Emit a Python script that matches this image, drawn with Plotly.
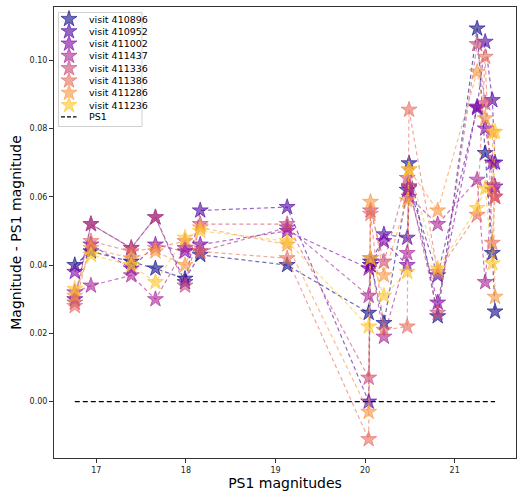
import plotly.graph_objects as go

# PS1 magnitudes of the comparison stars
ps1_mag = [16.76, 16.94, 17.39, 17.66, 17.99, 18.16, 19.13, 20.04, 20.06, 20.21,
           20.47, 20.49, 20.81, 21.25, 21.34, 21.42, 21.45]

visits = ["410896", "410952", "411002", "411437", "411336", "411386", "411286", "411236"]

v410896 = [0.040, 0.044, 0.041, 0.039, 0.036, 0.043, 0.040, 0.026, 0.041, 0.023,
           0.062, 0.0698, 0.025, 0.1093, 0.0728, 0.0435, 0.0264]
v410952 = [0.030, 0.052, 0.045, 0.054, 0.035, 0.056, 0.057, 0.000, 0.040, 0.049,
           0.048, 0.063, 0.037, 0.086, 0.1054, 0.0883, 0.070]
v411002 = [0.038, 0.046, 0.039, 0.046, 0.044, 0.046, 0.050, 0.039, 0.040, 0.047,
           0.040, 0.0625, 0.029, 0.0864, 0.080, 0.070, 0.063]
v411437 = [0.032, 0.034, 0.037, 0.030, 0.045, 0.044, 0.051, 0.031, 0.042, 0.019,
           0.0435, 0.060, 0.052, 0.065, 0.035, 0.062, 0.060]
v411336 = [0.029, 0.052, 0.045, 0.054, 0.034, 0.052, 0.052, 0.007, 0.056, 0.041,
           0.0655, 0.063, 0.026, 0.1047, 0.0874, 0.0634, 0.060]
v411386 = [0.028, 0.047, 0.044, 0.045, 0.047, 0.044, 0.042, -0.011, 0.055, 0.021,
           0.022, 0.0855, 0.038, 0.0547, 0.101, 0.0465, 0.060]
v411286 = [0.031, 0.045, 0.042, 0.044, 0.040, 0.051, 0.046, -0.003, 0.0585, 0.037,
           0.059, 0.068, 0.056, 0.0966, 0.083, 0.079, 0.0307]
v411236 = [0.033, 0.043, 0.040, 0.035, 0.048, 0.050, 0.047, 0.022, 0.042, 0.031,
           0.038, 0.068, 0.039, 0.0567, 0.0625, 0.0405, 0.079]

series = [v410896, v410952, v411002, v411437, v411336, v411386, v411286, v411236]

# plasma colormap sampled at linspace(0, 0.875, 8)
colors = [(13, 8, 135), (76, 2, 161), (126, 3, 168), (168, 34, 150),
          (204, 71, 120), (230, 108, 92), (248, 149, 64), (253, 197, 39)]

x_label = "PS1 magnitudes"
y_label = "Magnitude - PS1 magnitude"

FONT = "DejaVu Sans"
ALPHA = 0.6
STAR = 12

fig = go.Figure()

for name, vals, c in zip(visits, series, colors):
    rgba = f"rgba({c[0]},{c[1]},{c[2]},{ALPHA})"
    fig.add_trace(go.Scatter(
        x=ps1_mag, y=vals, mode="lines+markers",
        line=dict(color=rgba, width=1.2, dash="4px,3px"),
        marker=dict(symbol="star", size=STAR, color=rgba,
                    line=dict(color=rgba, width=1)),
        name="visit " + name, showlegend=False))

# PS1 reference line
fig.add_trace(go.Scatter(
    x=[min(ps1_mag), max(ps1_mag)], y=[0, 0], mode="lines",
    line=dict(color="black", width=1.3, dash="5px,3px"),
    name="PS1", showlegend=False))

# ---- custom legend (pixel coordinates inside the plot area) ----
L, R, T, B = 54, 516, 7, 458
PW, PH = R - L, B - T
leg_x0, leg_y0, leg_step = 15, 12, 12.3
text_x = 33
fig.add_shape(type="rect", xref="x2", yref="y2", x0=4.5, x1=88, y0=5.5, y1=119.5,
              line=dict(color="#d0d0d0", width=1), fillcolor="rgba(255,255,255,0.8)",
              layer="below")
leg_y = [leg_y0 + i * leg_step for i in range(len(visits))]
for i, (name, c) in enumerate(zip(visits, colors)):
    rgba = f"rgba({c[0]},{c[1]},{c[2]},{ALPHA})"
    fig.add_trace(go.Scatter(
        x=[leg_x0], y=[leg_y[i]], xaxis="x2", yaxis="y2", mode="markers",
        marker=dict(symbol="star", size=STAR, color=rgba, line=dict(color=rgba, width=1)),
        showlegend=False, hoverinfo="skip"))
    fig.add_annotation(x=text_x, y=leg_y[i], xref="x2", yref="y2", text="visit " + name,
                       showarrow=False, xanchor="left", yanchor="middle",
                       font=dict(family=FONT, size=9.5, color="black"))
ps1_y = leg_y0 + len(visits) * leg_step - 0.5
fig.add_trace(go.Scatter(
    x=[7, 22.5], y=[ps1_y, ps1_y], xaxis="x2", yaxis="y2", mode="lines",
    line=dict(color="black", width=1.3, dash="4px,2px"), showlegend=False, hoverinfo="skip"))
fig.add_annotation(x=text_x, y=ps1_y, xref="x2", yref="y2", text="PS1",
                   showarrow=False, xanchor="left", yanchor="middle",
                   font=dict(family=FONT, size=9.5, color="black"))

axis_common = dict(showgrid=False, zeroline=False, showline=True, mirror=True,
                   linecolor="#333333", linewidth=1, ticks="outside", ticklen=4,
                   tickcolor="#333333", tickfont=dict(family=FONT, size=8, color="#222"))

fig.update_layout(
    width=525, height=500,
    margin=dict(l=L, r=525 - R, t=T, b=500 - B, autoexpand=False),
    paper_bgcolor="white", plot_bgcolor="white",
    showlegend=False,
    font=dict(family=FONT, color="black"),
    xaxis=dict(range=[16.528, 21.684], tickvals=[17, 18, 19, 20, 21],
               title=dict(text=x_label, font=dict(family=FONT, size=14), standoff=4),
               **axis_common),
    yaxis=dict(range=[-0.0165, 0.1156], tickvals=[0, 0.02, 0.04, 0.06, 0.08, 0.10],
               tickformat=".2f",
               title=dict(text=y_label, font=dict(family=FONT, size=14), standoff=4),
               **axis_common),
    xaxis2=dict(overlaying="x", anchor="y2", range=[0, PW], visible=False, fixedrange=True),
    yaxis2=dict(overlaying="y", anchor="x2", range=[PH, 0], visible=False, fixedrange=True),
)

fig.write_html("out.html")
